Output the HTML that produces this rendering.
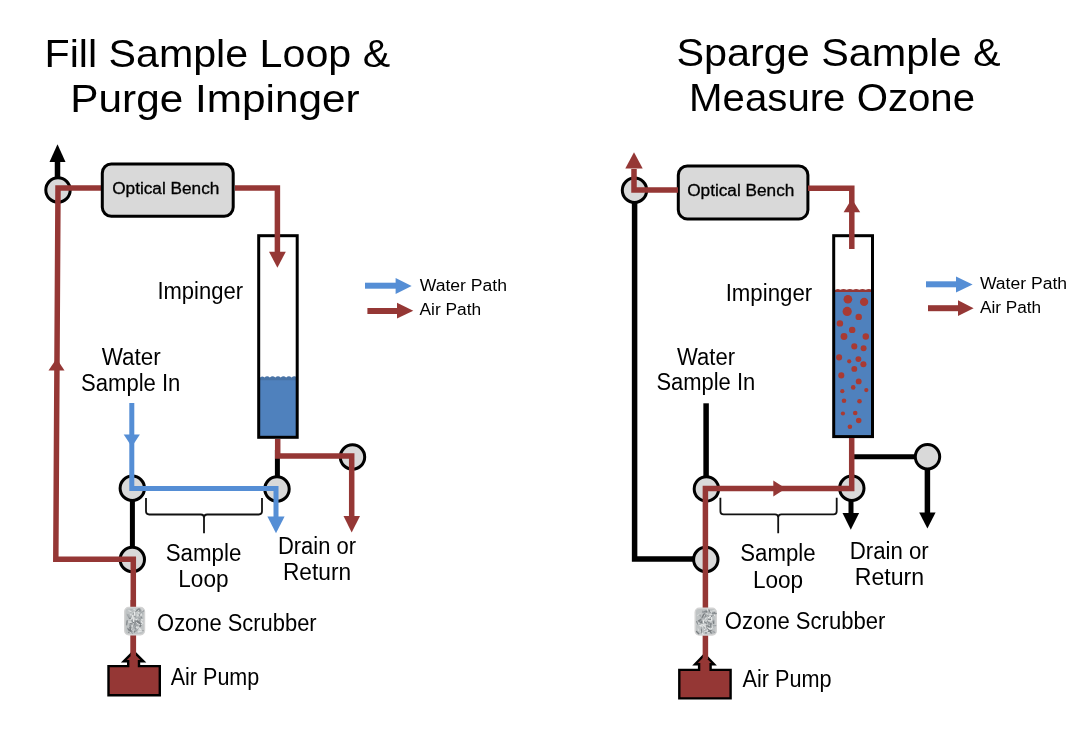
<!DOCTYPE html><html><head><meta charset="utf-8"><style>html,body{margin:0;padding:0;background:#fff;}svg{display:block;will-change:transform}</style></head><body>
<svg width="1080" height="734" viewBox="0 0 1080 734">
<rect width="1080" height="734" fill="#fff"/>
<text x="44.51" y="66.8" font-family="'Liberation Sans', sans-serif" font-size="39" fill="#000"  textLength="345.63" lengthAdjust="spacingAndGlyphs" >Fill Sample Loop &amp;</text>
<text x="70.31" y="111.5" font-family="'Liberation Sans', sans-serif" font-size="39" fill="#000"  textLength="289.4" lengthAdjust="spacingAndGlyphs" >Purge Impinger</text>
<text x="676.44" y="66" font-family="'Liberation Sans', sans-serif" font-size="39" fill="#000"  textLength="324.09" lengthAdjust="spacingAndGlyphs" >Sparge Sample &amp;</text>
<text x="689.08" y="110.7" font-family="'Liberation Sans', sans-serif" font-size="39" fill="#000"  textLength="286.02" lengthAdjust="spacingAndGlyphs" >Measure Ozone</text>
<rect x="259" y="378" width="38" height="59.5" fill="#4F81BD"/>
<path d="M259 378.7 Q261.71 374.90 264.43 377.38 Q267.14 374.90 269.86 377.38 Q272.57 374.90 275.29 377.38 Q278.00 374.90 280.71 377.38 Q283.43 374.90 286.14 377.38 Q288.86 374.90 291.57 377.38 Q294.29 374.90 297.00 377.38 L297 380.2 L259 380.2 Z" fill="#4873A6"/>
<rect x="258.7" y="235.7" width="38.5" height="201.60000000000002" fill="none" stroke="#000" stroke-width="3"/>
<path d="M57.5 180 L57.5 160" fill="none" stroke="#000" stroke-width="5.5" stroke-linejoin="miter" stroke-linecap="butt"/>
<polygon points="49.5,162 57.5,144.3 65.5,162" fill="#000"/>
<path d="M277.4 450 L277.4 480" fill="none" stroke="#000" stroke-width="5" stroke-linejoin="miter" stroke-linecap="butt"/>
<path d="M132.4 495 L132.4 550" fill="none" stroke="#000" stroke-width="5" stroke-linejoin="miter" stroke-linecap="butt"/>
<circle cx="58" cy="190" r="12.2" fill="#D9D9D9" stroke="#000" stroke-width="3"/>
<circle cx="352.5" cy="457" r="12.2" fill="#D9D9D9" stroke="#000" stroke-width="3"/>
<circle cx="132.3" cy="488.3" r="12.2" fill="#D9D9D9" stroke="#000" stroke-width="3"/>
<circle cx="277" cy="489" r="12.2" fill="#D9D9D9" stroke="#000" stroke-width="3"/>
<circle cx="132.3" cy="559.5" r="12.2" fill="#D9D9D9" stroke="#000" stroke-width="3"/>
<path d="M133.3 655 L133.3 559.3 L55.8 559.3 L58 188 L101 188" fill="none" stroke="#953735" stroke-width="5.5" stroke-linejoin="miter" stroke-linecap="butt"/>
<polygon points="48.5,370.5 56.6,358.5 64.5,370.5" fill="#953735"/>
<path d="M235 188 L277.4 188 L277.4 253" fill="none" stroke="#953735" stroke-width="5.5" stroke-linejoin="miter" stroke-linecap="butt"/>
<polygon points="269,251.7 277.4,267.7 285.8,251.7" fill="#953735"/>
<path d="M277.7 439 L277.7 456 L351.7 456 L351.7 518" fill="none" stroke="#953735" stroke-width="5.5" stroke-linejoin="miter" stroke-linecap="butt"/>
<polygon points="343.5,516 351.7,532.5 360,516" fill="#953735"/>
<path d="M131.8 403 L131.8 488.5 L276 488.5 L276 518" fill="none" stroke="#558ED5" stroke-width="5" stroke-linejoin="miter" stroke-linecap="butt"/>
<polygon points="123.7,434.5 131.8,446.8 139.9,434.5" fill="#558ED5"/>
<polygon points="267.4,516.5 276,533.3 284.6,516.5" fill="#558ED5"/>
<path d="M146 498 L146 511.3 Q146 514.5 149.2 514.5 L200.8 514.5 Q204 514.5 204 517.7 L204 533.3 M204 517.7 Q204 514.5 207.2 514.5 L258.8 514.5 Q262 514.5 262 511.3 L262 498" fill="none" stroke="#111" stroke-width="1.8"/>
<rect x="102.3" y="164.0" width="130.89999999999998" height="52.30000000000001" rx="9" fill="#D9D9D9" stroke="#000" stroke-width="3"/>
<text x="112.23" y="193.6" font-family="'Liberation Sans', sans-serif" font-size="16" fill="#000"  stroke="#000" stroke-width="0.3" textLength="107.1" lengthAdjust="spacingAndGlyphs" >Optical Bench</text>
<path d="M108.5 666.1 L128.2 666.1 L128.2 661.3 L123.78 661.3 L133.60000000000002 651.492 L143.42000000000002 661.3 L139.0 661.3 L139.0 666.1 L159.8 666.1 L159.8 695.1999999999999 L108.5 695.1999999999999 Z" fill="#953735" stroke="#000" stroke-width="2.4" stroke-linejoin="miter"/>
<path d="M133.3 600 L133.3 656" fill="none" stroke="#953735" stroke-width="5.5" stroke-linejoin="miter" stroke-linecap="butt"/>
<rect x="124.7" y="607.5" width="19.79999999999999" height="27.200000000000024" rx="4" fill="#BFC3C4" stroke="#D3D3D3" stroke-width="1.4"/>
<line x1="127.7" y1="628.3" x2="129.6" y2="630.3" stroke="#8A8F92" stroke-width="1.2" stroke-linecap="round"/>
<line x1="137.0" y1="626.0" x2="137.1" y2="629.8" stroke="#8A8F92" stroke-width="1.1" stroke-linecap="round"/>
<line x1="136.1" y1="625.8" x2="136.6" y2="629.0" stroke="#DADDDD" stroke-width="1.0" stroke-linecap="round"/>
<line x1="140.3" y1="630.5" x2="143.4" y2="630.7" stroke="#8A8F92" stroke-width="0.8" stroke-linecap="round"/>
<line x1="141.7" y1="624.4" x2="139.9" y2="626.6" stroke="#7A7F82" stroke-width="1.4" stroke-linecap="round"/>
<line x1="140.9" y1="621.7" x2="142.5" y2="623.0" stroke="#E8EAEA" stroke-width="1.2" stroke-linecap="round"/>
<line x1="132.0" y1="609.6" x2="130.3" y2="610.0" stroke="#B0B4B6" stroke-width="1.3" stroke-linecap="round"/>
<line x1="137.4" y1="614.9" x2="139.1" y2="617.7" stroke="#DADDDD" stroke-width="1.4" stroke-linecap="round"/>
<line x1="140.8" y1="618.6" x2="142.6" y2="619.9" stroke="#DADDDD" stroke-width="1.6" stroke-linecap="round"/>
<line x1="134.8" y1="630.7" x2="134.4" y2="632.3" stroke="#7A7F82" stroke-width="1.0" stroke-linecap="round"/>
<line x1="138.7" y1="617.4" x2="140.2" y2="620.8" stroke="#9DA2A5" stroke-width="1.4" stroke-linecap="round"/>
<line x1="138.5" y1="609.6" x2="138.4" y2="613.1" stroke="#DADDDD" stroke-width="1.2" stroke-linecap="round"/>
<line x1="132.8" y1="619.7" x2="133.0" y2="622.0" stroke="#8A8F92" stroke-width="1.5" stroke-linecap="round"/>
<line x1="135.3" y1="622.2" x2="137.6" y2="623.6" stroke="#DADDDD" stroke-width="1.6" stroke-linecap="round"/>
<line x1="137.9" y1="621.1" x2="140.0" y2="623.0" stroke="#B0B4B6" stroke-width="1.6" stroke-linecap="round"/>
<line x1="136.6" y1="618.8" x2="135.1" y2="621.5" stroke="#E8EAEA" stroke-width="1.4" stroke-linecap="round"/>
<line x1="132.8" y1="628.6" x2="132.7" y2="630.4" stroke="#DADDDD" stroke-width="1.4" stroke-linecap="round"/>
<line x1="131.2" y1="631.1" x2="128.5" y2="632.3" stroke="#7A7F82" stroke-width="1.0" stroke-linecap="round"/>
<line x1="134.5" y1="620.0" x2="134.9" y2="621.5" stroke="#E8EAEA" stroke-width="1.2" stroke-linecap="round"/>
<line x1="138.2" y1="617.0" x2="140.3" y2="617.2" stroke="#B0B4B6" stroke-width="0.9" stroke-linecap="round"/>
<line x1="137.4" y1="628.6" x2="134.5" y2="630.7" stroke="#B0B4B6" stroke-width="1.0" stroke-linecap="round"/>
<line x1="141.3" y1="624.7" x2="138.9" y2="625.7" stroke="#8A8F92" stroke-width="1.4" stroke-linecap="round"/>
<line x1="130.1" y1="615.0" x2="132.0" y2="616.2" stroke="#B0B4B6" stroke-width="0.9" stroke-linecap="round"/>
<line x1="129.6" y1="630.5" x2="131.7" y2="633.0" stroke="#DADDDD" stroke-width="1.2" stroke-linecap="round"/>
<line x1="131.1" y1="619.5" x2="132.4" y2="621.5" stroke="#8A8F92" stroke-width="1.4" stroke-linecap="round"/>
<line x1="130.7" y1="614.3" x2="130.7" y2="616.3" stroke="#DADDDD" stroke-width="1.3" stroke-linecap="round"/>
<line x1="139.5" y1="609.0" x2="140.0" y2="610.5" stroke="#8A8F92" stroke-width="1.6" stroke-linecap="round"/>
<line x1="133.9" y1="620.2" x2="133.6" y2="622.3" stroke="#7A7F82" stroke-width="1.6" stroke-linecap="round"/>
<line x1="139.5" y1="620.7" x2="139.4" y2="622.3" stroke="#9DA2A5" stroke-width="1.3" stroke-linecap="round"/>
<line x1="138.4" y1="624.7" x2="140.6" y2="625.1" stroke="#7A7F82" stroke-width="1.6" stroke-linecap="round"/>
<line x1="139.6" y1="614.9" x2="141.8" y2="618.1" stroke="#8A8F92" stroke-width="1.4" stroke-linecap="round"/>
<line x1="133.6" y1="613.5" x2="132.9" y2="617.0" stroke="#8A8F92" stroke-width="1.3" stroke-linecap="round"/>
<line x1="128.5" y1="629.6" x2="131.6" y2="631.5" stroke="#7A7F82" stroke-width="1.6" stroke-linecap="round"/>
<line x1="137.2" y1="620.8" x2="138.6" y2="621.8" stroke="#7A7F82" stroke-width="1.3" stroke-linecap="round"/>
<line x1="139.5" y1="622.7" x2="142.5" y2="623.8" stroke="#7A7F82" stroke-width="1.0" stroke-linecap="round"/>
<line x1="135.3" y1="616.7" x2="133.9" y2="617.2" stroke="#7A7F82" stroke-width="1.0" stroke-linecap="round"/>
<line x1="131.3" y1="631.7" x2="132.3" y2="633.5" stroke="#9DA2A5" stroke-width="1.3" stroke-linecap="round"/>
<line x1="141.8" y1="630.8" x2="138.3" y2="631.8" stroke="#E8EAEA" stroke-width="1.2" stroke-linecap="round"/>
<line x1="139.5" y1="621.2" x2="138.4" y2="622.5" stroke="#8A8F92" stroke-width="0.9" stroke-linecap="round"/>
<line x1="141.8" y1="612.6" x2="140.7" y2="616.0" stroke="#E8EAEA" stroke-width="1.1" stroke-linecap="round"/>
<line x1="133.3" y1="615.1" x2="130.7" y2="617.2" stroke="#B0B4B6" stroke-width="1.2" stroke-linecap="round"/>
<line x1="135.1" y1="627.4" x2="136.7" y2="627.6" stroke="#E8EAEA" stroke-width="1.5" stroke-linecap="round"/>
<line x1="137.9" y1="628.3" x2="140.7" y2="629.4" stroke="#E8EAEA" stroke-width="1.5" stroke-linecap="round"/>
<line x1="126.7" y1="622.0" x2="128.8" y2="622.6" stroke="#B0B4B6" stroke-width="1.5" stroke-linecap="round"/>
<line x1="136.5" y1="630.8" x2="134.8" y2="631.4" stroke="#7A7F82" stroke-width="0.8" stroke-linecap="round"/>
<line x1="130.4" y1="623.5" x2="132.1" y2="624.0" stroke="#8A8F92" stroke-width="1.5" stroke-linecap="round"/>
<line x1="126.9" y1="614.1" x2="127.4" y2="615.8" stroke="#B0B4B6" stroke-width="0.9" stroke-linecap="round"/>
<line x1="130.0" y1="624.9" x2="130.8" y2="628.8" stroke="#8A8F92" stroke-width="1.4" stroke-linecap="round"/>
<line x1="134.4" y1="627.7" x2="136.2" y2="629.6" stroke="#B0B4B6" stroke-width="0.9" stroke-linecap="round"/>
<line x1="138.6" y1="609.1" x2="135.6" y2="611.4" stroke="#8A8F92" stroke-width="1.4" stroke-linecap="round"/>
<line x1="129.8" y1="618.2" x2="133.5" y2="618.9" stroke="#7A7F82" stroke-width="1.6" stroke-linecap="round"/>
<line x1="143.6" y1="610.9" x2="140.9" y2="613.0" stroke="#9DA2A5" stroke-width="1.5" stroke-linecap="round"/>
<line x1="139.6" y1="619.3" x2="141.5" y2="621.4" stroke="#E8EAEA" stroke-width="1.0" stroke-linecap="round"/>
<line x1="128.9" y1="610.8" x2="132.1" y2="611.7" stroke="#E8EAEA" stroke-width="0.9" stroke-linecap="round"/>
<line x1="135.4" y1="616.2" x2="136.2" y2="618.4" stroke="#9DA2A5" stroke-width="1.1" stroke-linecap="round"/>
<line x1="131.0" y1="628.7" x2="132.3" y2="629.9" stroke="#E8EAEA" stroke-width="1.3" stroke-linecap="round"/>
<line x1="138.5" y1="611.4" x2="140.6" y2="611.5" stroke="#9DA2A5" stroke-width="0.9" stroke-linecap="round"/>
<line x1="134.7" y1="610.9" x2="136.2" y2="611.0" stroke="#8A8F92" stroke-width="1.4" stroke-linecap="round"/>
<line x1="130.7" y1="619.8" x2="134.0" y2="620.9" stroke="#9DA2A5" stroke-width="1.1" stroke-linecap="round"/>
<line x1="136.3" y1="623.7" x2="133.2" y2="626.3" stroke="#9DA2A5" stroke-width="1.5" stroke-linecap="round"/>
<line x1="133.0" y1="611.1" x2="130.4" y2="612.6" stroke="#B0B4B6" stroke-width="0.9" stroke-linecap="round"/>
<line x1="128.7" y1="622.1" x2="131.0" y2="622.3" stroke="#DADDDD" stroke-width="1.5" stroke-linecap="round"/>
<line x1="140.5" y1="630.7" x2="138.5" y2="630.8" stroke="#DADDDD" stroke-width="1.0" stroke-linecap="round"/>
<line x1="134.0" y1="609.2" x2="136.4" y2="611.7" stroke="#DADDDD" stroke-width="1.3" stroke-linecap="round"/>
<line x1="134.0" y1="617.7" x2="133.5" y2="621.3" stroke="#E8EAEA" stroke-width="1.2" stroke-linecap="round"/>
<line x1="132.8" y1="615.6" x2="133.0" y2="619.0" stroke="#E8EAEA" stroke-width="1.5" stroke-linecap="round"/>
<line x1="141.9" y1="608.9" x2="142.7" y2="610.6" stroke="#DADDDD" stroke-width="0.9" stroke-linecap="round"/>
<line x1="130.9" y1="627.9" x2="130.5" y2="629.8" stroke="#7A7F82" stroke-width="0.9" stroke-linecap="round"/>
<line x1="134.4" y1="611.9" x2="134.4" y2="615.1" stroke="#E8EAEA" stroke-width="1.2" stroke-linecap="round"/>
<line x1="136.7" y1="625.2" x2="138.5" y2="627.9" stroke="#9DA2A5" stroke-width="1.6" stroke-linecap="round"/>
<line x1="139.9" y1="616.7" x2="136.2" y2="617.8" stroke="#B0B4B6" stroke-width="1.0" stroke-linecap="round"/>
<line x1="138.1" y1="609.4" x2="135.8" y2="611.5" stroke="#8A8F92" stroke-width="1.1" stroke-linecap="round"/>
<line x1="133.9" y1="626.7" x2="135.7" y2="629.3" stroke="#9DA2A5" stroke-width="1.5" stroke-linecap="round"/>
<line x1="132.4" y1="625.0" x2="132.6" y2="626.7" stroke="#DADDDD" stroke-width="0.9" stroke-linecap="round"/>
<line x1="135.4" y1="620.9" x2="137.2" y2="622.0" stroke="#7A7F82" stroke-width="1.0" stroke-linecap="round"/>
<line x1="135.7" y1="625.9" x2="135.7" y2="628.4" stroke="#8A8F92" stroke-width="1.3" stroke-linecap="round"/>
<line x1="133.2" y1="628.7" x2="132.2" y2="629.9" stroke="#B0B4B6" stroke-width="1.6" stroke-linecap="round"/>
<line x1="140.2" y1="623.5" x2="139.0" y2="624.8" stroke="#E8EAEA" stroke-width="1.6" stroke-linecap="round"/>
<line x1="142.7" y1="623.1" x2="141.7" y2="624.6" stroke="#DADDDD" stroke-width="1.5" stroke-linecap="round"/>
<line x1="129.8" y1="627.6" x2="131.0" y2="631.2" stroke="#7A7F82" stroke-width="1.2" stroke-linecap="round"/>
<line x1="135.2" y1="620.3" x2="138.0" y2="621.4" stroke="#9DA2A5" stroke-width="1.1" stroke-linecap="round"/>
<line x1="127.9" y1="614.9" x2="129.0" y2="617.6" stroke="#9DA2A5" stroke-width="1.6" stroke-linecap="round"/>
<line x1="135.6" y1="621.6" x2="134.5" y2="624.4" stroke="#8A8F92" stroke-width="1.5" stroke-linecap="round"/>
<line x1="128.9" y1="615.4" x2="130.8" y2="616.7" stroke="#B0B4B6" stroke-width="1.4" stroke-linecap="round"/>
<line x1="140.2" y1="618.5" x2="139.8" y2="621.2" stroke="#9DA2A5" stroke-width="1.5" stroke-linecap="round"/>
<line x1="137.5" y1="621.7" x2="140.4" y2="623.8" stroke="#7A7F82" stroke-width="1.5" stroke-linecap="round"/>
<line x1="127.2" y1="620.8" x2="126.6" y2="624.7" stroke="#8A8F92" stroke-width="1.4" stroke-linecap="round"/>
<line x1="141.6" y1="610.9" x2="142.9" y2="614.1" stroke="#B0B4B6" stroke-width="1.1" stroke-linecap="round"/>
<line x1="136.2" y1="627.2" x2="138.8" y2="627.2" stroke="#E8EAEA" stroke-width="1.2" stroke-linecap="round"/>
<line x1="132.2" y1="617.6" x2="130.7" y2="619.9" stroke="#DADDDD" stroke-width="1.3" stroke-linecap="round"/>
<text x="157.42" y="299.3" font-family="'Liberation Sans', sans-serif" font-size="23" fill="#000"  textLength="85.62" lengthAdjust="spacingAndGlyphs" >Impinger</text>
<text x="101.69" y="364.6" font-family="'Liberation Sans', sans-serif" font-size="23" fill="#000"  textLength="59.05" lengthAdjust="spacingAndGlyphs" >Water</text>
<text x="81.01" y="390.6" font-family="'Liberation Sans', sans-serif" font-size="23" fill="#000"  textLength="99.38" lengthAdjust="spacingAndGlyphs" >Sample In</text>
<text x="165.7" y="561.3" font-family="'Liberation Sans', sans-serif" font-size="23" fill="#000"  textLength="75.62" lengthAdjust="spacingAndGlyphs" >Sample</text>
<text x="178.29" y="587.4" font-family="'Liberation Sans', sans-serif" font-size="23" fill="#000"  textLength="50.2" lengthAdjust="spacingAndGlyphs" >Loop</text>
<text x="277.95" y="553.9" font-family="'Liberation Sans', sans-serif" font-size="23" fill="#000"  textLength="78.02" lengthAdjust="spacingAndGlyphs" >Drain or</text>
<text x="282.98" y="579.8" font-family="'Liberation Sans', sans-serif" font-size="23" fill="#000"  textLength="68.12" lengthAdjust="spacingAndGlyphs" >Return</text>
<text x="157.11" y="630.7" font-family="'Liberation Sans', sans-serif" font-size="23" fill="#000"  textLength="159.55" lengthAdjust="spacingAndGlyphs" >Ozone Scrubber</text>
<text x="170.69" y="684.7" font-family="'Liberation Sans', sans-serif" font-size="23" fill="#000"  textLength="88.62" lengthAdjust="spacingAndGlyphs" >Air Pump</text>
<path d="M365 285.7 L397 285.7" fill="none" stroke="#558ED5" stroke-width="6" stroke-linejoin="miter" stroke-linecap="butt"/>
<polygon points="395.6,278 411.6,286 395.6,294" fill="#558ED5"/>
<path d="M367.4 311 L398 311" fill="none" stroke="#953735" stroke-width="6" stroke-linejoin="miter" stroke-linecap="butt"/>
<polygon points="397,302.8 413.3,310.8 397,318.5" fill="#953735"/>
<text x="419.71" y="290.7" font-family="'Liberation Sans', sans-serif" font-size="17.3" fill="#000"  textLength="87.33" lengthAdjust="spacingAndGlyphs" >Water Path</text>
<text x="419.51" y="314.8" font-family="'Liberation Sans', sans-serif" font-size="17.3" fill="#000"  textLength="61.65" lengthAdjust="spacingAndGlyphs" >Air Path</text>
<rect x="834" y="290.8" width="38" height="147" fill="#4F81BD"/>
<path d="M834 290.59999999999997 Q837.17 288.00 840.33 289.76 Q843.50 288.00 846.67 289.76 Q849.83 288.00 853.00 289.76 Q856.17 288.00 859.33 289.76 Q862.50 288.00 865.67 289.76 Q868.83 288.00 872.00 289.76 L872 292.09999999999997 L834 292.09999999999997 Z" fill="#953735"/>
<circle cx="847.9" cy="299.2" r="4.32" fill="#A93A33"/>
<circle cx="864.1" cy="301.9" r="4.14" fill="#A93A33"/>
<circle cx="847.2" cy="311.4" r="4.60" fill="#A93A33"/>
<circle cx="858.7" cy="316.9" r="3.22" fill="#A93A33"/>
<circle cx="839.9" cy="323.4" r="3.22" fill="#A93A33"/>
<circle cx="852.2" cy="329.9" r="3.22" fill="#A93A33"/>
<circle cx="844" cy="336.5" r="3.40" fill="#A93A33"/>
<circle cx="865.8" cy="336.5" r="3.22" fill="#A93A33"/>
<circle cx="854.3" cy="346.4" r="3.04" fill="#A93A33"/>
<circle cx="863.6" cy="348.3" r="2.94" fill="#A93A33"/>
<circle cx="839.1" cy="357.4" r="3.04" fill="#A93A33"/>
<circle cx="849.2" cy="361.3" r="2.12" fill="#A93A33"/>
<circle cx="858.4" cy="359.1" r="2.94" fill="#A93A33"/>
<circle cx="863.4" cy="364.2" r="3.04" fill="#A93A33"/>
<circle cx="854.3" cy="368.9" r="2.94" fill="#A93A33"/>
<circle cx="841.3" cy="375.4" r="3.04" fill="#A93A33"/>
<circle cx="858.7" cy="381.4" r="2.94" fill="#A93A33"/>
<circle cx="853.2" cy="387.4" r="2.30" fill="#A93A33"/>
<circle cx="842.3" cy="391.2" r="2.12" fill="#A93A33"/>
<circle cx="866.3" cy="390.1" r="2.12" fill="#A93A33"/>
<circle cx="844" cy="400.8" r="2.30" fill="#A93A33"/>
<circle cx="859.5" cy="401.3" r="2.30" fill="#A93A33"/>
<circle cx="842.9" cy="413.5" r="2.12" fill="#A93A33"/>
<circle cx="855.2" cy="413" r="2.30" fill="#A93A33"/>
<circle cx="858.7" cy="420.5" r="2.76" fill="#A93A33"/>
<circle cx="849.9" cy="426.7" r="2.30" fill="#A93A33"/>
<rect x="833.7" y="235.7" width="38.799999999999955" height="200.90000000000003" fill="none" stroke="#000" stroke-width="3"/>
<path d="M634.6 195 L634.6 559 L700 559" fill="none" stroke="#000" stroke-width="5.5" stroke-linejoin="miter" stroke-linecap="butt"/>
<path d="M706.1 403.3 L706.1 480" fill="none" stroke="#000" stroke-width="5.5" stroke-linejoin="miter" stroke-linecap="butt"/>
<path d="M852 456.8 L920 456.8" fill="none" stroke="#000" stroke-width="5" stroke-linejoin="miter" stroke-linecap="butt"/>
<path d="M927.4 465 L927.4 514" fill="none" stroke="#000" stroke-width="5.5" stroke-linejoin="miter" stroke-linecap="butt"/>
<polygon points="919.2,512.5 927.4,528.5 935.6,512.5" fill="#000"/>
<path d="M851 495 L851 514" fill="none" stroke="#000" stroke-width="5" stroke-linejoin="miter" stroke-linecap="butt"/>
<polygon points="842.5,512.9 850.8,529.7 859.1,512.9" fill="#000"/>
<circle cx="634.5" cy="190.3" r="12.2" fill="#D9D9D9" stroke="#000" stroke-width="3"/>
<circle cx="927.5" cy="456.8" r="12.2" fill="#D9D9D9" stroke="#000" stroke-width="3"/>
<circle cx="706.4" cy="488.9" r="12.2" fill="#D9D9D9" stroke="#000" stroke-width="3"/>
<circle cx="851.8" cy="488.2" r="12.2" fill="#D9D9D9" stroke="#000" stroke-width="3"/>
<circle cx="705.8" cy="559.5" r="12.2" fill="#D9D9D9" stroke="#000" stroke-width="3"/>
<rect x="678.3" y="166.0" width="129.60000000000002" height="52.900000000000006" rx="9" fill="#D9D9D9" stroke="#000" stroke-width="3"/>
<text x="687.23" y="196.4" font-family="'Liberation Sans', sans-serif" font-size="16" fill="#000"  stroke="#000" stroke-width="0.3" textLength="107.1" lengthAdjust="spacingAndGlyphs" >Optical Bench</text>
<path d="M679.3000000000001 669.9000000000001 L699.1 669.9000000000001 L699.1 664.1999999999999 L695.08 664.1999999999999 L704.55 654.492 L714.02 664.1999999999999 L710.5999999999999 664.1999999999999 L710.5999999999999 669.9000000000001 L730.5999999999999 669.9000000000001 L730.5999999999999 698.4 L679.3000000000001 698.4 Z" fill="#953735" stroke="#000" stroke-width="2.4" stroke-linejoin="miter"/>
<path d="M634 169 L634 190 L678 190" fill="none" stroke="#953735" stroke-width="5.5" stroke-linejoin="miter" stroke-linecap="butt"/>
<polygon points="625.3,168.5 634,152.3 642.7,168.5" fill="#953735"/>
<path d="M808 188.3 L851.8 188.3 L851.8 249" fill="none" stroke="#953735" stroke-width="5.5" stroke-linejoin="miter" stroke-linecap="butt"/>
<polygon points="843.6,212.3 851.8,198.8 860.2,212.3" fill="#953735"/>
<path d="M851.7 438 L851.7 488.6 L705.4 488.6 L705.4 659" fill="none" stroke="#953735" stroke-width="5.5" stroke-linejoin="miter" stroke-linecap="butt"/>
<polygon points="773.3,480.4 785.8,488.5 773.3,496.6" fill="#953735"/>
<path d="M720.4 497.8 L720.4 511.2 Q720.4 514.4 723.6 514.4 L775.0 514.4 Q778.2 514.4 778.2 517.6 L778.2 533.3 M778.2 517.6 Q778.2 514.4 781.4000000000001 514.4 L833.5 514.4 Q836.7 514.4 836.7 511.2 L836.7 497.8" fill="none" stroke="#111" stroke-width="1.8"/>
<rect x="695.2" y="608.2" width="21.1" height="26.800000000000047" rx="4" fill="#BFC3C4" stroke="#D3D3D3" stroke-width="1.4"/>
<line x1="712.6" y1="631.6" x2="714.9" y2="632.3" stroke="#8A8F92" stroke-width="0.9" stroke-linecap="round"/>
<line x1="711.6" y1="628.4" x2="710.7" y2="631.2" stroke="#E8EAEA" stroke-width="1.3" stroke-linecap="round"/>
<line x1="701.3" y1="618.9" x2="698.3" y2="621.0" stroke="#7A7F82" stroke-width="1.2" stroke-linecap="round"/>
<line x1="703.0" y1="631.1" x2="704.0" y2="632.3" stroke="#B0B4B6" stroke-width="0.8" stroke-linecap="round"/>
<line x1="704.7" y1="615.6" x2="705.6" y2="619.2" stroke="#7A7F82" stroke-width="0.9" stroke-linecap="round"/>
<line x1="699.6" y1="614.6" x2="700.6" y2="616.1" stroke="#9DA2A5" stroke-width="1.2" stroke-linecap="round"/>
<line x1="715.8" y1="625.6" x2="713.2" y2="625.7" stroke="#9DA2A5" stroke-width="1.1" stroke-linecap="round"/>
<line x1="707.1" y1="630.3" x2="705.3" y2="631.8" stroke="#E8EAEA" stroke-width="1.6" stroke-linecap="round"/>
<line x1="714.7" y1="612.7" x2="713.0" y2="614.8" stroke="#7A7F82" stroke-width="1.2" stroke-linecap="round"/>
<line x1="705.7" y1="629.7" x2="705.5" y2="633.2" stroke="#B0B4B6" stroke-width="1.3" stroke-linecap="round"/>
<line x1="705.4" y1="629.1" x2="704.6" y2="632.8" stroke="#E8EAEA" stroke-width="1.4" stroke-linecap="round"/>
<line x1="707.0" y1="614.2" x2="704.0" y2="616.1" stroke="#E8EAEA" stroke-width="1.5" stroke-linecap="round"/>
<line x1="706.7" y1="626.3" x2="708.9" y2="629.5" stroke="#7A7F82" stroke-width="1.4" stroke-linecap="round"/>
<line x1="706.3" y1="620.8" x2="705.4" y2="623.2" stroke="#DADDDD" stroke-width="1.4" stroke-linecap="round"/>
<line x1="705.9" y1="617.7" x2="705.2" y2="619.3" stroke="#DADDDD" stroke-width="1.5" stroke-linecap="round"/>
<line x1="710.6" y1="631.0" x2="708.8" y2="631.1" stroke="#9DA2A5" stroke-width="1.3" stroke-linecap="round"/>
<line x1="698.7" y1="623.4" x2="697.0" y2="624.1" stroke="#DADDDD" stroke-width="1.2" stroke-linecap="round"/>
<line x1="712.8" y1="615.5" x2="711.1" y2="615.8" stroke="#9DA2A5" stroke-width="1.5" stroke-linecap="round"/>
<line x1="708.9" y1="610.5" x2="711.7" y2="612.1" stroke="#E8EAEA" stroke-width="0.9" stroke-linecap="round"/>
<line x1="714.9" y1="610.3" x2="712.5" y2="610.9" stroke="#DADDDD" stroke-width="0.9" stroke-linecap="round"/>
<line x1="714.1" y1="626.0" x2="712.7" y2="628.1" stroke="#B0B4B6" stroke-width="0.8" stroke-linecap="round"/>
<line x1="712.4" y1="613.5" x2="716.2" y2="613.5" stroke="#8A8F92" stroke-width="1.3" stroke-linecap="round"/>
<line x1="708.8" y1="616.5" x2="711.4" y2="616.8" stroke="#7A7F82" stroke-width="1.4" stroke-linecap="round"/>
<line x1="711.4" y1="630.2" x2="708.5" y2="631.6" stroke="#7A7F82" stroke-width="1.2" stroke-linecap="round"/>
<line x1="701.6" y1="625.0" x2="700.3" y2="625.7" stroke="#E8EAEA" stroke-width="1.4" stroke-linecap="round"/>
<line x1="713.5" y1="620.9" x2="713.6" y2="623.2" stroke="#7A7F82" stroke-width="1.5" stroke-linecap="round"/>
<line x1="703.7" y1="614.6" x2="702.2" y2="617.5" stroke="#7A7F82" stroke-width="1.6" stroke-linecap="round"/>
<line x1="708.0" y1="615.4" x2="709.5" y2="616.3" stroke="#9DA2A5" stroke-width="1.3" stroke-linecap="round"/>
<line x1="706.9" y1="632.8" x2="704.9" y2="632.8" stroke="#8A8F92" stroke-width="1.2" stroke-linecap="round"/>
<line x1="702.6" y1="622.8" x2="700.2" y2="624.6" stroke="#B0B4B6" stroke-width="1.1" stroke-linecap="round"/>
<line x1="707.9" y1="615.9" x2="710.1" y2="617.0" stroke="#8A8F92" stroke-width="0.9" stroke-linecap="round"/>
<line x1="705.0" y1="611.7" x2="706.9" y2="612.3" stroke="#8A8F92" stroke-width="1.0" stroke-linecap="round"/>
<line x1="700.6" y1="620.7" x2="701.0" y2="623.5" stroke="#7A7F82" stroke-width="1.1" stroke-linecap="round"/>
<line x1="709.8" y1="626.7" x2="708.1" y2="628.6" stroke="#9DA2A5" stroke-width="1.2" stroke-linecap="round"/>
<line x1="708.6" y1="610.9" x2="705.7" y2="611.5" stroke="#7A7F82" stroke-width="1.5" stroke-linecap="round"/>
<line x1="708.7" y1="619.2" x2="708.5" y2="623.0" stroke="#8A8F92" stroke-width="1.3" stroke-linecap="round"/>
<line x1="701.0" y1="631.3" x2="703.1" y2="634.3" stroke="#E8EAEA" stroke-width="1.1" stroke-linecap="round"/>
<line x1="700.3" y1="613.7" x2="697.3" y2="615.5" stroke="#DADDDD" stroke-width="0.8" stroke-linecap="round"/>
<line x1="708.4" y1="620.0" x2="707.9" y2="621.5" stroke="#B0B4B6" stroke-width="0.8" stroke-linecap="round"/>
<line x1="703.1" y1="626.1" x2="701.6" y2="627.5" stroke="#9DA2A5" stroke-width="1.3" stroke-linecap="round"/>
<line x1="703.6" y1="619.9" x2="704.1" y2="621.6" stroke="#E8EAEA" stroke-width="0.9" stroke-linecap="round"/>
<line x1="698.1" y1="628.8" x2="698.7" y2="630.7" stroke="#DADDDD" stroke-width="0.9" stroke-linecap="round"/>
<line x1="708.7" y1="619.9" x2="706.9" y2="622.0" stroke="#8A8F92" stroke-width="1.1" stroke-linecap="round"/>
<line x1="704.9" y1="626.7" x2="705.1" y2="630.4" stroke="#E8EAEA" stroke-width="1.4" stroke-linecap="round"/>
<line x1="710.7" y1="619.2" x2="708.8" y2="620.3" stroke="#7A7F82" stroke-width="1.0" stroke-linecap="round"/>
<line x1="706.5" y1="614.7" x2="704.6" y2="617.3" stroke="#7A7F82" stroke-width="0.9" stroke-linecap="round"/>
<line x1="708.9" y1="621.6" x2="710.6" y2="625.2" stroke="#8A8F92" stroke-width="0.9" stroke-linecap="round"/>
<line x1="705.8" y1="611.1" x2="702.8" y2="612.0" stroke="#8A8F92" stroke-width="1.4" stroke-linecap="round"/>
<line x1="696.5" y1="631.5" x2="698.8" y2="633.7" stroke="#7A7F82" stroke-width="1.3" stroke-linecap="round"/>
<line x1="702.9" y1="621.2" x2="706.4" y2="623.1" stroke="#8A8F92" stroke-width="1.6" stroke-linecap="round"/>
<line x1="705.1" y1="616.8" x2="703.7" y2="618.5" stroke="#9DA2A5" stroke-width="1.5" stroke-linecap="round"/>
<line x1="706.2" y1="625.9" x2="704.0" y2="626.8" stroke="#7A7F82" stroke-width="1.4" stroke-linecap="round"/>
<line x1="708.3" y1="620.7" x2="711.2" y2="621.0" stroke="#DADDDD" stroke-width="1.5" stroke-linecap="round"/>
<line x1="699.5" y1="621.0" x2="700.9" y2="622.6" stroke="#7A7F82" stroke-width="1.4" stroke-linecap="round"/>
<line x1="705.4" y1="624.9" x2="703.1" y2="625.2" stroke="#E8EAEA" stroke-width="1.4" stroke-linecap="round"/>
<line x1="707.4" y1="626.7" x2="709.7" y2="628.7" stroke="#DADDDD" stroke-width="1.1" stroke-linecap="round"/>
<line x1="709.8" y1="632.4" x2="707.6" y2="633.0" stroke="#DADDDD" stroke-width="1.2" stroke-linecap="round"/>
<line x1="713.5" y1="620.4" x2="712.2" y2="621.2" stroke="#9DA2A5" stroke-width="1.6" stroke-linecap="round"/>
<line x1="710.6" y1="623.8" x2="708.9" y2="624.4" stroke="#9DA2A5" stroke-width="1.5" stroke-linecap="round"/>
<line x1="711.9" y1="614.3" x2="709.0" y2="615.0" stroke="#DADDDD" stroke-width="1.2" stroke-linecap="round"/>
<line x1="707.5" y1="609.2" x2="707.9" y2="611.2" stroke="#DADDDD" stroke-width="1.3" stroke-linecap="round"/>
<line x1="704.3" y1="613.1" x2="706.0" y2="616.4" stroke="#8A8F92" stroke-width="1.2" stroke-linecap="round"/>
<line x1="708.6" y1="609.9" x2="708.8" y2="613.1" stroke="#B0B4B6" stroke-width="1.1" stroke-linecap="round"/>
<line x1="703.2" y1="621.6" x2="700.2" y2="621.7" stroke="#8A8F92" stroke-width="1.1" stroke-linecap="round"/>
<line x1="709.2" y1="630.7" x2="711.4" y2="632.9" stroke="#7A7F82" stroke-width="1.5" stroke-linecap="round"/>
<line x1="709.1" y1="610.0" x2="710.1" y2="612.5" stroke="#7A7F82" stroke-width="1.0" stroke-linecap="round"/>
<line x1="696.6" y1="621.6" x2="697.8" y2="624.2" stroke="#8A8F92" stroke-width="1.1" stroke-linecap="round"/>
<line x1="704.7" y1="629.3" x2="704.8" y2="631.1" stroke="#E8EAEA" stroke-width="1.4" stroke-linecap="round"/>
<line x1="710.4" y1="616.4" x2="708.5" y2="617.6" stroke="#E8EAEA" stroke-width="1.3" stroke-linecap="round"/>
<line x1="711.0" y1="623.3" x2="710.8" y2="627.1" stroke="#7A7F82" stroke-width="1.2" stroke-linecap="round"/>
<line x1="701.9" y1="622.9" x2="699.4" y2="624.7" stroke="#9DA2A5" stroke-width="1.0" stroke-linecap="round"/>
<line x1="701.1" y1="619.8" x2="701.0" y2="621.4" stroke="#9DA2A5" stroke-width="0.9" stroke-linecap="round"/>
<line x1="707.9" y1="627.5" x2="709.8" y2="629.0" stroke="#E8EAEA" stroke-width="1.1" stroke-linecap="round"/>
<line x1="703.2" y1="620.6" x2="703.5" y2="622.5" stroke="#E8EAEA" stroke-width="1.4" stroke-linecap="round"/>
<line x1="713.9" y1="614.3" x2="714.8" y2="615.8" stroke="#E8EAEA" stroke-width="1.0" stroke-linecap="round"/>
<line x1="699.5" y1="625.2" x2="701.1" y2="626.2" stroke="#E8EAEA" stroke-width="0.9" stroke-linecap="round"/>
<line x1="701.2" y1="621.1" x2="702.2" y2="624.5" stroke="#7A7F82" stroke-width="1.1" stroke-linecap="round"/>
<line x1="712.8" y1="629.9" x2="712.0" y2="633.1" stroke="#B0B4B6" stroke-width="1.1" stroke-linecap="round"/>
<line x1="705.6" y1="626.2" x2="702.3" y2="626.9" stroke="#DADDDD" stroke-width="1.6" stroke-linecap="round"/>
<line x1="701.0" y1="624.2" x2="703.2" y2="624.7" stroke="#DADDDD" stroke-width="1.2" stroke-linecap="round"/>
<line x1="701.4" y1="629.0" x2="701.7" y2="632.8" stroke="#7A7F82" stroke-width="0.9" stroke-linecap="round"/>
<line x1="712.9" y1="612.6" x2="714.7" y2="613.3" stroke="#8A8F92" stroke-width="0.9" stroke-linecap="round"/>
<line x1="712.1" y1="625.6" x2="712.7" y2="628.4" stroke="#DADDDD" stroke-width="1.0" stroke-linecap="round"/>
<line x1="711.4" y1="617.2" x2="711.8" y2="620.9" stroke="#E8EAEA" stroke-width="1.1" stroke-linecap="round"/>
<line x1="701.4" y1="620.8" x2="699.6" y2="622.3" stroke="#9DA2A5" stroke-width="0.9" stroke-linecap="round"/>
<line x1="702.6" y1="611.3" x2="704.1" y2="612.8" stroke="#9DA2A5" stroke-width="1.3" stroke-linecap="round"/>
<line x1="702.0" y1="618.5" x2="703.8" y2="618.8" stroke="#B0B4B6" stroke-width="1.5" stroke-linecap="round"/>
<line x1="703.7" y1="626.8" x2="705.3" y2="629.3" stroke="#9DA2A5" stroke-width="0.9" stroke-linecap="round"/>
<line x1="707.7" y1="625.9" x2="709.0" y2="627.0" stroke="#7A7F82" stroke-width="1.4" stroke-linecap="round"/>
<line x1="706.9" y1="629.5" x2="704.3" y2="630.9" stroke="#B0B4B6" stroke-width="1.3" stroke-linecap="round"/>
<text x="725.7" y="301" font-family="'Liberation Sans', sans-serif" font-size="23" fill="#000"  textLength="86.45" lengthAdjust="spacingAndGlyphs" >Impinger</text>
<text x="677.09" y="364.7" font-family="'Liberation Sans', sans-serif" font-size="23" fill="#000"  textLength="57.94" lengthAdjust="spacingAndGlyphs" >Water</text>
<text x="656.41" y="390.4" font-family="'Liberation Sans', sans-serif" font-size="23" fill="#000"  textLength="98.77" lengthAdjust="spacingAndGlyphs" >Sample In</text>
<text x="740.3" y="561.3" font-family="'Liberation Sans', sans-serif" font-size="23" fill="#000"  textLength="75.21" lengthAdjust="spacingAndGlyphs" >Sample</text>
<text x="752.89" y="587.9" font-family="'Liberation Sans', sans-serif" font-size="23" fill="#000"  textLength="50.2" lengthAdjust="spacingAndGlyphs" >Loop</text>
<text x="849.72" y="558.9" font-family="'Liberation Sans', sans-serif" font-size="23" fill="#000"  textLength="79.05" lengthAdjust="spacingAndGlyphs" >Drain or</text>
<text x="854.75" y="585.1" font-family="'Liberation Sans', sans-serif" font-size="23" fill="#000"  textLength="69.39" lengthAdjust="spacingAndGlyphs" >Return</text>
<text x="724.81" y="629.1" font-family="'Liberation Sans', sans-serif" font-size="23" fill="#000"  textLength="160.46" lengthAdjust="spacingAndGlyphs" >Ozone Scrubber</text>
<text x="742.59" y="687" font-family="'Liberation Sans', sans-serif" font-size="23" fill="#000"  textLength="89.02" lengthAdjust="spacingAndGlyphs" >Air Pump</text>
<path d="M926 284.3 L957 284.3" fill="none" stroke="#558ED5" stroke-width="6" stroke-linejoin="miter" stroke-linecap="butt"/>
<polygon points="956,276.6 972.6,284.5 956,292.4" fill="#558ED5"/>
<path d="M928 308.2 L959 308.2" fill="none" stroke="#953735" stroke-width="6" stroke-linejoin="miter" stroke-linecap="butt"/>
<polygon points="958,300.3 973.6,308.2 958,316.1" fill="#953735"/>
<text x="979.91" y="289.4" font-family="'Liberation Sans', sans-serif" font-size="17.3" fill="#000"  textLength="87.13" lengthAdjust="spacingAndGlyphs" >Water Path</text>
<text x="979.91" y="313.1" font-family="'Liberation Sans', sans-serif" font-size="17.3" fill="#000"  textLength="61.24" lengthAdjust="spacingAndGlyphs" >Air Path</text>
</svg></body></html>
